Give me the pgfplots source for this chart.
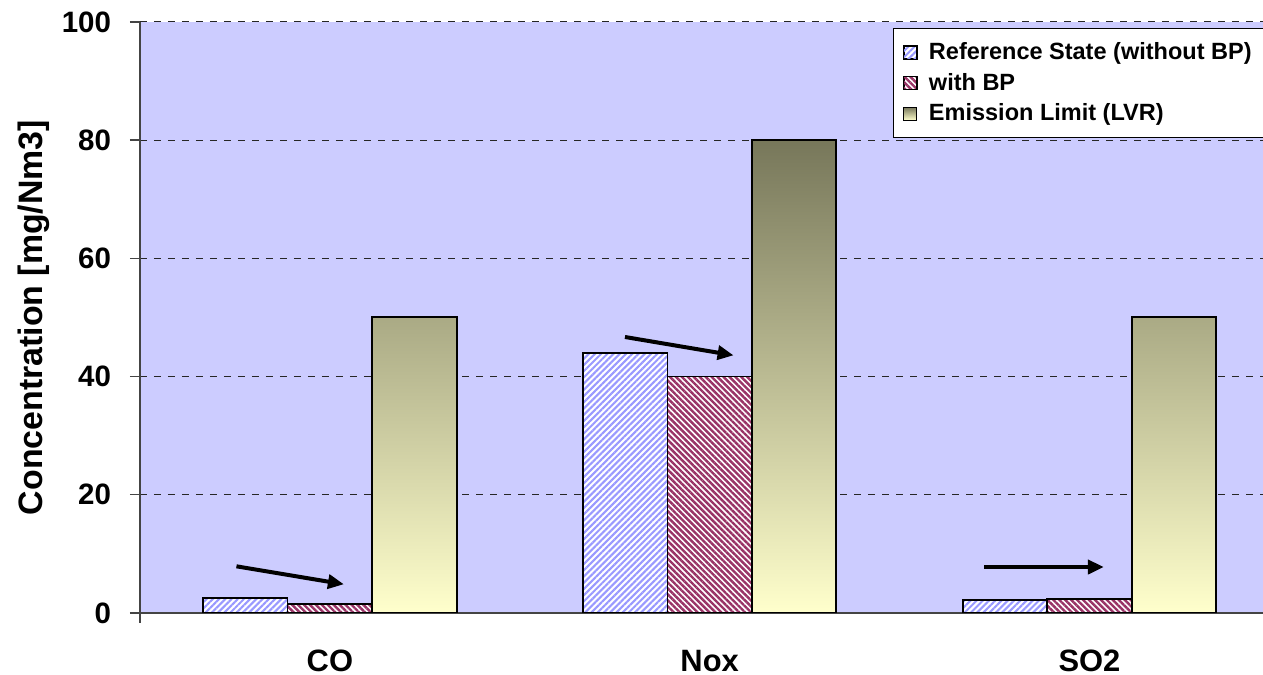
\documentclass[border=0pt]{standalone}
\usepackage{fontspec}
\setmainfont{Liberation Sans}
\usepackage{pgfplots}
\pgfplotsset{compat=1.18}
\usetikzlibrary{patterns.meta,arrows.meta}

\definecolor{plotbg}{HTML}{CCCCFF}
\definecolor{refblue}{HTML}{9999FF}
\definecolor{bpplum}{HTML}{993366}
\definecolor{limtop}{HTML}{77775A}
\definecolor{limbot}{HTML}{FFFFCC}
\definecolor{axisgray}{HTML}{444444}

\begin{document}
\begin{tikzpicture}
\begin{axis}[
  scale only axis,
  width=561.5bp, height=295.5bp,
  xmin=-0.5, xmax=2.457,
  ymin=0, ymax=100,
  ybar=0pt, bar width=0.2225,
  axis background/.style={fill=plotbg},
  axis x line*=bottom, axis y line*=left,
  axis line style={-, draw=axisgray, line width=0.7bp},
  tick align=outside,
  major tick length=5bp,
  ytick={0,20,...,100},
  ytick style={draw=axisgray, line width=0.7bp},
  xtick={0,1,2},
  xticklabels={CO,Nox,SO2},
  xtick style={draw=none},
  /pgf/number format/assume math mode=true,
  yticklabel style={font=\bfseries\fontsize{14.8}{17}\selectfont, xshift=-6bp},
  xticklabel style={font=\bfseries\fontsize{15.5}{18}\selectfont, yshift=-10bp},
  ymajorgrids,
  major grid style={draw=black!85, line width=0.5bp, dash pattern=on 3.5bp off 3.5bp},
  ylabel={Concentration [mg/Nm3]},
  ylabel style={font=\bfseries\fontsize{17}{20}\selectfont,
    at={(axis description cs:-0.0945,0.5)}, anchor=center},
  legend style={at={(0.6705,0.9898)}, anchor=north west,
    font=\bfseries\fontsize{11.8}{14}\selectfont,
    draw=black, line width=0.5bp, fill=white,
    inner xsep=5bp, inner ysep=5bp, row sep=1.3bp},
  legend cell align=left,
  legend image code/.code={%
    \draw[#1, line width=0.5bp] (0bp,-3.25bp) rectangle (6.5bp,3.25bp);
    \path (10bp,0bp);},
]
\coordinate (bl) at (rel axis cs:0,0);
\coordinate (tr) at (rel axis cs:1,1);

% reference state, without BP
\addplot[draw=black, line width=0.8bp, preaction={fill=white},
  pattern={Lines[angle=45,distance=2.2bp,line width=1.05bp]}, pattern color=refblue]
  coordinates {(0,2.5) (1,44) (2,2.2)};
% with BP
\addplot[draw=black, line width=0.8bp, preaction={fill=white},
  pattern={Lines[angle=-45,distance=2.1bp,line width=1.2bp]}, pattern color=bpplum]
  coordinates {(0,1.5) (1,40) (2,2.4)};
% emission limit (LVR)
\addplot[draw=black, line width=1bp, top color=limtop, bottom color=limbot]
  coordinates {(0,50) (1,80) (2,50)};

\legend{Reference State (without BP), with BP, Emission Limit (LVR)}

% trend arrows between reference and BP
\draw[line width=2bp, -{Triangle[length=8bp,width=7bp]}]
  (axis cs:-0.246,7.9) -- (axis cs:0.037,4.86);
\draw[line width=2bp, -{Triangle[length=8bp,width=7bp]}]
  (axis cs:0.777,46.7) -- (axis cs:1.063,43.6);
\draw[line width=2bp, -{Triangle[length=8bp,width=7bp]}]
  (axis cs:1.723,7.78) -- (axis cs:2.038,7.78);
\end{axis}
% short tick below the left end of the category axis
\draw[axisgray, line width=0.7bp] (bl) -- ++(0,-5bp);
\pgfresetboundingbox
\path ([shift={(-70bp,-31bp)}]bl) rectangle ([shift={(0bp,11bp)}]tr);
\end{tikzpicture}
\end{document}
